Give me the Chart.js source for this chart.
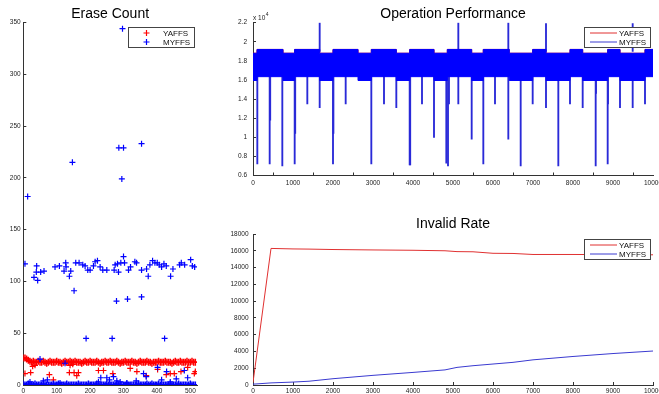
<!DOCTYPE html>
<html>
<head>
<meta charset="utf-8">
<title>YAFFS vs MYFFS</title>
<script src="https://cdn.jsdelivr.net/npm/chart.js@4.4.0/dist/chart.umd.min.js"></script>
<style>
html,body{margin:0;padding:0;background:#fff;overflow:hidden;width:659px;height:394px;}
.box{position:absolute;}
#erase{left:0;top:0;width:230px;height:400px;}
#perf{left:220px;top:0;width:460px;height:195px;}
#invalid{left:220px;top:200px;width:460px;height:200px;}
</style>
</head>
<body>
<div class="box" id="erase"><canvas id="eraseChart"></canvas></div>
<div class="box" id="perf"><canvas id="perfChart"></canvas></div>
<div class="box" id="invalid"><canvas id="invalidChart"></canvas></div>
<script>
'use strict';

// ---- Erase Count ----
let eraseXTicks=[0,100,200,300,400,500];
let eraseYTicks=[0,50,100,150,200,250,300,350];
// the two dense bands (one mark every 5 blocks)
let bandX=[0,5,10,15,20,25,30,35,40,45,50,55,60,65,70,75,80,85,90,95,
  100,105,110,115,120,125,130,135,140,145,150,155,160,165,170,175,180,185,190,195,
  200,205,210,215,220,225,230,235,240,245,250,255,260,265,270,275,280,285,290,295,
  300,305,310,315,320,325,330,335,340,345,350,355,360,365,370,375,380,385,390,395,
  400,405,410,415,420,425,430,435,440,445,450,455,460,465,470,475,480,485,490,495,
  500,505,510,515];
let yaffsBandY=[26,26,25,24,23,22,23,22,22,23,22,22,23,22,21,22,23,22,22,22,
  23,22,22,21,22,23,22,22,23,22,22,23,22,22,22,21,22,23,22,22,
  23,22,22,22,23,22,21,22,22,23,22,22,23,22,22,22,23,22,21,22,
  22,23,22,22,22,23,22,22,21,22,23,22,22,22,23,22,22,21,22,22,
  22,23,22,22,22,23,22,22,22,21,22,23,22,22,23,22,22,22,23,22,
  22,23,22,22];
let myffsBandY=[1,0,0,1,0,0,0,1,0,0,0,0,1,0,0,0,0,0,1,0,
  0,1,0,0,0,0,1,0,0,0,0,0,0,1,0,0,0,0,0,1,
  0,0,0,0,1,0,0,0,0,0,1,0,0,0,0,0,1,0,0,0,
  0,0,1,0,0,0,0,0,0,1,0,0,0,0,1,0,0,1,0,0,
  0,1,0,0,0,0,0,0,1,0,0,0,0,1,0,0,0,0,0,0,
  1,0,0,0];
// scattered points
let yaffsX=[5,22,28,35,78,90,138,140,148,152,160,165,225,240,268,320,340,368,402,428,440,452,472,492,512,515];
let yaffsY=[11,12,18,19,10,5,12,19,20,12,9,12,14,14,11,16,13,9,15,10,11,11,13,17,11,13];
let myffsX=[5,32,40,39,43,52,62,95,108,122,127,128,138,142,152,157,167,178,185,193,200,210,215,222,230,238,250,272,275,279,282,285,292,300,303,312,315,321,334,339,354,354,369,374,379,387,394,401,407,414,421,428,441,448,468,473,483,501,506,513,
  297,286,300,354,147,295,13,188,266,423,50,125,
  20,60,72,110,225,232,250,258,270,280,290,310,338,360,368,402,414,429,440,458,482,492];
let myffsY=[117,104,115,109,101,109,110,114,115,110,118,114,105,110,91,118,118,116,115,111,111,115,119,120,114,111,111,111,116,81,117,109,118,124,118,83,111,114,119,118,85,111,112,105,116,120,118,118,116,114,117,115,105,112,116,118,116,121,115,114,
  344,229,229,233,215,199,182,45,45,45,25,21,
  3,4,5,2,3,7,7,5,8,4,3,2,4,11,8,17,5,13,3,6,14,7];

// ---- Operation Performance ----
let perfXTicks=[0,1000,2000,3000,4000,5000,6000,7000,8000,9000,10000];
let perfYTicks=[6000,8000,10000,12000,14000,16000,18000,20000,22000];
// upper and lower edge of the dense oscillation band
let perfStepX=[0,100,750,1040,1667,2000,2625,2958,3583,3917,4525,4858,5467,5757,6407,6992,7325,7925,8242,8867,9175,9800,10000];
let perfTop=[18800,19200,18800,19200,18800,19200,18800,19200,18800,19200,18800,19200,18800,19200,18800,19200,18800,19200,18800,19200,18800,19200,19200];
let perfBottom=[15950,16350,15950,16350,15950,16350,15950,16350,15950,16350,15950,16350,15950,16350,15950,16350,15950,16350,15950,16350,15950,16350,16350];
// spikes out of the band
let spikeX=[108,417,430,733,1042,1055,1358,1667,1667,2000,2010,2317,2958,3275,3583,3917,3930,4225,4525,4833,4875,4900,5133,5133,5467,5758,6050,6383,6383,6692,6992,7325,7325,7633,7925,8242,8567,8575,8867,8875,9175,9492,9492,9800];
let spikeLow=[7200,7200,11800,7000,7200,10400,13500,13100,19000,7200,10400,13500,7200,13500,13100,7100,7100,13500,10000,7300,7000,13500,13500,19000,9800,7200,13500,9800,19000,7000,13500,13100,19000,7000,13500,13100,7000,14600,7200,13500,13100,13100,19000,13500];
let spikeHigh=[16500,16500,16500,16500,16500,16500,16500,16500,22000,16500,16500,16500,16500,16500,16500,16500,16500,16500,16500,16500,16500,16500,16500,22000,16500,16500,16500,16500,22000,16500,16500,16500,21900,16500,16500,16500,16500,16500,16500,16500,16500,16500,21900,16500];

// ---- Invalid Rate ----
let rateXTicks=[0,1000,2000,3000,4000,5000,6000,7000,8000,9000,10000];
let rateYTicks=[0,2000,4000,6000,8000,10000,12000,14000,16000,18000];
let rateX=[0,450,1000,1400,2000,3000,4000,4800,5100,5500,6000,6500,7000,8000,9000,10000];
let rateYaffs=[300,16280,16220,16200,16150,16100,16060,16000,15900,15880,15700,15680,15560,15560,15540,15520];
let rateMyffs=[100,250,350,450,750,1150,1500,1800,2100,2300,2500,2700,3000,3400,3750,4050];

const FONT='"Liberation Sans", Arial, Helvetica, sans-serif';
const RED='#ff0000';
const BLUE='#0000ff';

function pts(xs,ys){
  let out=[];
  for(let i=0;i<xs.length;i++){
    out.push({x:xs[i],y:ys[i]});
  }
  return out;
}

// title, legend and exponent label drawn matlab-style
function makeDecor(cfg){
  return {
    id:'decor',
    afterDraw(chart){
      let ctx=chart.ctx;
      let a=chart.chartArea;
      ctx.save();
      ctx.fillStyle='#000';
      ctx.textAlign='center';
      ctx.textBaseline='middle';
      ctx.font='14px '+FONT;
      ctx.fillText(cfg.title,(a.left+a.right)/2,cfg.titleY);
      if(cfg.exponent){
        ctx.textAlign='left';
        ctx.textBaseline='alphabetic';
        ctx.font='6.5px '+FONT;
        ctx.fillStyle='#222';
        ctx.fillText('x 10',a.left,a.top-3);
        let w=ctx.measureText('x 10').width;
        ctx.font='5px '+FONT;
        ctx.fillText('4',a.left+w+0.5,a.top-6.5);
      }
      let bw=66, bh=20;
      let bx=Math.round(a.right-3-bw)+0.5;
      let by=Math.round(a.top+4.5)+0.5;
      ctx.fillStyle='#fff';
      ctx.fillRect(bx,by,bw,bh);
      ctx.strokeStyle='#444';
      ctx.lineWidth=1;
      ctx.strokeRect(bx,by,bw,bh);
      for(let i=0;i<cfg.items.length;i++){
        let it=cfg.items[i];
        let y=by+5.5+i*9;
        ctx.strokeStyle=it.color;
        ctx.beginPath();
        if(it.kind==='cross'){
          ctx.lineWidth=1.2;
          ctx.moveTo(bx+15,y);ctx.lineTo(bx+21,y);
          ctx.moveTo(bx+18,y-3);ctx.lineTo(bx+18,y+3);
        }else{
          ctx.lineWidth=1;
          ctx.moveTo(bx+5.5,y);ctx.lineTo(bx+32.5,y);
        }
        ctx.stroke();
        ctx.fillStyle='#111';
        ctx.font='8px '+FONT;
        ctx.textAlign='left';
        ctx.textBaseline='middle';
        ctx.fillText(it.label,bx+34.5,y+0.5);
      }
      ctx.restore();
    }
  };
}

function makeAxis(min,max,tickList,size,pad,fmt,horizontal){
  return {
    type:'linear',
    min:min,
    max:max,
    offset:false,
    afterBuildTicks:function(s){ s.ticks=tickList.map(function(v){return {value:v};}); },
    afterFit:function(s){ if(horizontal){ s.height=size; }else{ s.width=size; } },
    grid:{display:true,drawOnChartArea:false,drawTicks:true,tickLength:-3,color:'#333',lineWidth:1},
    border:{display:true,color:'#333',width:1},
    ticks:{
      padding:pad,
      autoSkip:false,
      maxRotation:0,
      color:'#222',
      font:{family:FONT,size:6.5},
      callback:fmt||function(v){return String(v);}
    }
  };
}

// ---------- Erase Count ----------
new Chart(document.getElementById('eraseChart'),{
  type:'scatter',
  data:{
    datasets:[
      {label:'MYFFS',data:pts(myffsX,myffsY),pointStyle:'cross',pointRadius:3,pointBorderWidth:1.2,borderColor:BLUE,backgroundColor:BLUE},
      {label:'MYFFS band',data:pts(bandX,myffsBandY),pointStyle:'cross',pointRadius:3.5,pointBorderWidth:1.5,borderColor:BLUE,backgroundColor:BLUE},
      {label:'YAFFS',data:pts(yaffsX,yaffsY),pointStyle:'cross',pointRadius:3,pointBorderWidth:1.2,borderColor:RED,backgroundColor:RED},
      {label:'YAFFS band',data:pts(bandX,yaffsBandY),pointStyle:'cross',pointRadius:3.5,pointBorderWidth:1.5,borderColor:RED,backgroundColor:RED}
    ]
  },
  options:{
    responsive:true,
    maintainAspectRatio:false,
    animation:false,
    layout:{padding:{left:0,top:22.5,right:33,bottom:0}},
    plugins:{legend:{display:false},tooltip:{enabled:false},title:{display:false}},
    scales:{
      x:makeAxis(0,520,eraseXTicks,15,5.5,null,true),
      y:makeAxis(0,350,eraseYTicks,23.3,5.6,null,false)
    }
  },
  plugins:[makeDecor({title:'Erase Count',titleY:14,items:[{label:'YAFFS',color:RED,kind:'cross'},{label:'MYFFS',color:BLUE,kind:'cross'}]})]
});

// ---------- Operation Performance ----------
function perfFmt(v){ return String(v/10000); }
new Chart(document.getElementById('perfChart'),{
  type:'line',
  data:{
    datasets:[
      {label:'MYFFS',data:pts(perfStepX,perfTop),stepped:true,borderColor:BLUE,backgroundColor:BLUE,borderWidth:1,pointRadius:0,fill:'+1'},
      {label:'MYFFS low',data:pts(perfStepX,perfBottom),stepped:true,borderColor:BLUE,borderWidth:1,pointRadius:0,fill:false},
      {label:'MYFFS spikes',type:'bar',data:spikeX.map(function(x,i){return {x:x,y:[spikeLow[i],spikeHigh[i]]};}),backgroundColor:'#2a2ad8',borderWidth:0,barThickness:1.2},
      {label:'YAFFS',data:pts(perfStepX,perfTop),stepped:true,borderColor:RED,borderWidth:1,pointRadius:0,fill:false}
    ]
  },
  options:{
    responsive:true,
    maintainAspectRatio:false,
    animation:false,
    layout:{padding:{left:0,top:22.7,right:27,bottom:0}},
    plugins:{legend:{display:false},tooltip:{enabled:false},title:{display:false}},
    scales:{
      x:makeAxis(0,10000,perfXTicks,19.5,6.5,null,true),
      y:makeAxis(6000,22000,perfYTicks,33,9,perfFmt,false)
    }
  },
  plugins:[makeDecor({title:'Operation Performance',titleY:14,exponent:true,items:[{label:'YAFFS',color:'#e03030',kind:'line'},{label:'MYFFS',color:'#3a3ad0',kind:'line'}]})]
});

// ---------- Invalid Rate ----------
new Chart(document.getElementById('invalidChart'),{
  type:'line',
  data:{
    datasets:[
      {label:'YAFFS',data:pts(rateX,rateYaffs),borderColor:'#e03030',borderWidth:1,pointRadius:0,fill:false},
      {label:'MYFFS',data:pts(rateX,rateMyffs),borderColor:'#3a3ad0',borderWidth:1,pointRadius:0,fill:false}
    ]
  },
  options:{
    responsive:true,
    maintainAspectRatio:false,
    animation:false,
    layout:{padding:{left:0,top:34,right:27,bottom:0}},
    plugins:{legend:{display:false},tooltip:{enabled:false},title:{display:false}},
    scales:{
      x:makeAxis(0,10000,rateXTicks,15,5.5,null,true),
      y:makeAxis(0,18000,rateYTicks,33,7.5,null,false)
    }
  },
  plugins:[makeDecor({title:'Invalid Rate',titleY:24,items:[{label:'YAFFS',color:'#e03030',kind:'line'},{label:'MYFFS',color:'#3a3ad0',kind:'line'}]})]
});
</script>
</body>
</html>
